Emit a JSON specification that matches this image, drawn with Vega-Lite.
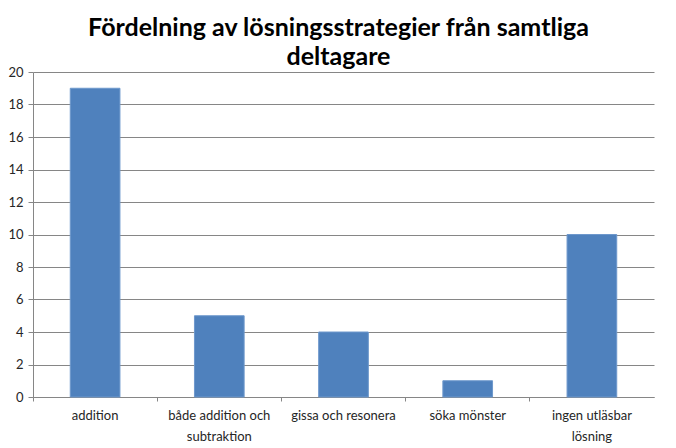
{
  "$schema": "https://vega.github.io/schema/vega-lite/v6.json",
  "width": 621,
  "height": 325,
  "autosize": "none",
  "padding": {"left": 33, "top": 72, "right": 22, "bottom": 51},
  "background": "white",
  "config": {
    "view": {"stroke": null},
    "font": "Lato"
  },
  "title": {
    "text": ["Fördelning av lösningsstrategier från samtliga", "deltagare"],
    "font": "Lato",
    "fontSize": 25,
    "fontWeight": "bold",
    "color": "#000000",
    "lineHeight": 29,
    "anchor": "middle",
    "offset": -4,
    "dx": -5
  },
  "data": {
    "values": [
      {"kategori": "addition", "antal": 19},
      {"kategori": "både addition och subtraktion", "antal": 5},
      {"kategori": "gissa och resonera", "antal": 4},
      {"kategori": "söka mönster", "antal": 1},
      {"kategori": "ingen utläsbar lösning", "antal": 10}
    ]
  },
  "mark": {"type": "bar", "width": {"band": 0.4}, "color": "#4F81BD", "stroke": "#6E98CC", "strokeWidth": 1},
  "encoding": {
    "x": {
      "field": "kategori",
      "type": "nominal",
      "sort": null,
      "scale": {"paddingInner": 0, "paddingOuter": 0},
      "axis": {
        "title": null,
        "labelAngle": 0,
        "labelFontSize": 13,
        "labelColor": "#262626",
        "labelPadding": 8,
        "labelLineHeight": 21,
        "labelBaseline": "top",
        "labelExpr": "datum.value == 'både addition och subtraktion' ? ['både addition och', 'subtraktion'] : datum.value == 'ingen utläsbar lösning' ? ['ingen utläsbar', 'lösning'] : datum.value",
        "bandPosition": 0,
        "tickSize": 4,
        "tickColor": "#868686",
        "domainColor": "#868686",
        "grid": false
      }
    },
    "y": {
      "field": "antal",
      "type": "quantitative",
      "scale": {"domain": [0, 20], "nice": false},
      "axis": {
        "title": null,
        "values": [0, 2, 4, 6, 8, 10, 12, 14, 16, 18, 20],
        "labelFontSize": 13,
        "labelColor": "#262626",
        "labelPadding": 5,
        "tickSize": 5,
        "tickColor": "#868686",
        "domainColor": "#868686",
        "gridColor": "#868686",
        "gridOpacity": 1
      }
    }
  }
}
